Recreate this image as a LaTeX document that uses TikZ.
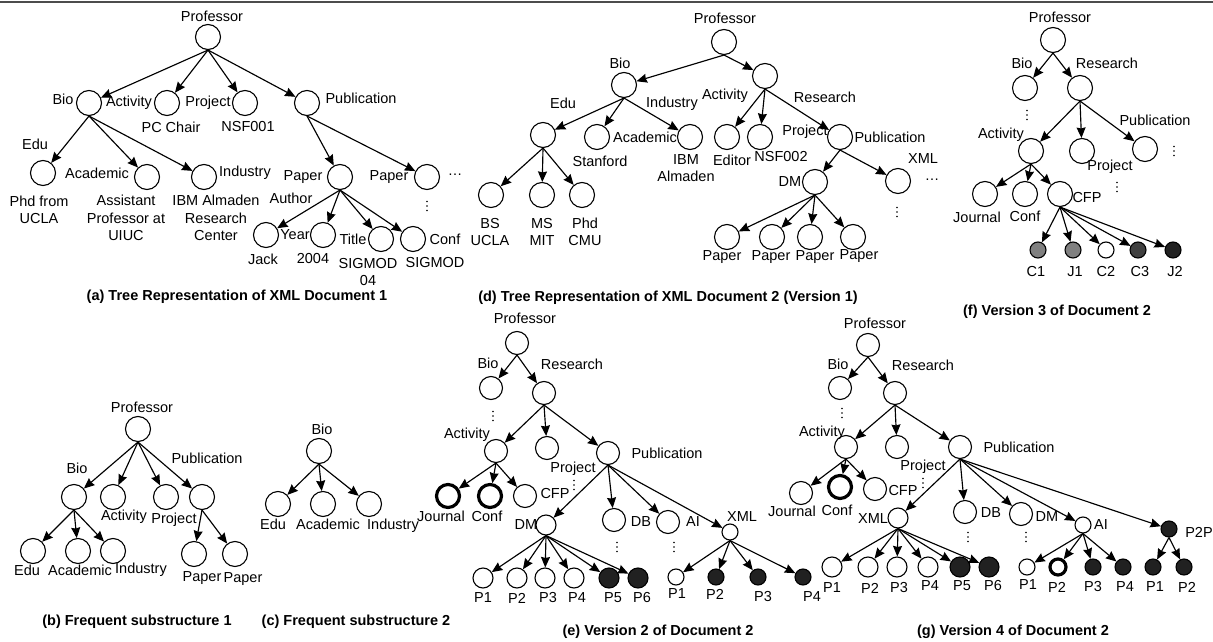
\documentclass[tikz,border=0pt]{standalone}
\usepackage{fontspec}
\setmainfont{Liberation Sans}
\usetikzlibrary{arrows.meta}
\newcommand\lblfont{\fontsize{14.5}{17.5}\selectfont}
\newcommand\capfont{\fontsize{14.5}{17}\selectfont\bfseries}
\newcommand\vdts[2]{\foreach \dy in {-4.5,0,4.5}{\fill (#1,#2+\dy) circle (0.9pt);}}
\begin{document}
\begin{tikzpicture}[x=1pt,y=-1pt,
  nd/.style={circle,draw,line width=1.1pt,minimum size=25pt,inner sep=0pt},
  ne/.style={nd,minimum size=23pt},
  md/.style={nd,minimum size=20pt},
  sm/.style={nd,minimum size=16pt},
  dk/.style={fill=black!87},
  dg/.style={fill=black!75},
  gy/.style={fill=black!50},
  ring/.style={line width=3.2pt},
  lb/.style={inner sep=0pt,font=\lblfont,align=center},
  captn/.style={inner sep=0pt,font=\capfont},
  ar/.style={line width=1.15pt,-{Stealth[length=10.5pt,width=9pt,inset=1pt]}}]
\useasboundingbox (0,0) rectangle (1213,642);
\draw[line width=1.5pt,black!70] (0,2) -- (1213,2);

% ---------------- (a)
\node[nd] (a0) at (208,37) {};
\node[lb] (a0l) at (212,16) {Professor};
\node[nd] (a1) at (89,103) {}; \node[lb] (a1l) at (63,99) {Bio};
\node[nd] (a2) at (167,103) {}; \node[lb] (a2l) at (129,103) {Activity};
\node[nd] (a3) at (245,103) {}; \node[lb] (a3l) at (208,103) {Project};
\node[nd] (a4) at (307,103) {}; \node[lb] (a4l) at (361,98) {Publication};
\node[lb] (a2v) at (171,127) {PC Chair};
\node[lb] (a3v) at (248,127) {NSF001};
\node[nd] (a5) at (43,173) {}; \node[lb] (a5l) at (35,144) {Edu};
\node[nd] (a6) at (147,177) {}; \node[lb] (a6l) at (97,173) {Academic};
\node[nd] (a7) at (204,177) {}; \node[lb] (a7l) at (245,173) {Industry};
\node[lb] (a5v) at (39,210) {Phd from\\UCLA};
\node[lb] (a6v) at (126,218) {Assistant\\Professor at\\UIUC};
\node[lb] (a7v) at (216,218) {IBM Almaden\\Research\\Center};
\node[nd] (a8) at (340,177) {}; \node[lb] (a8l) at (303,177) {Paper};
\node[nd] (a9) at (427,177) {}; \node[lb] (a9l) at (389,177) {Paper};
\node[lb] (a9h) at (455,175) {…};
\vdts{427}{206}
\node[lb] (a10l) at (291,198) {Author};
\node[nd] (a10) at (266,235) {}; \node[lb] (a10v) at (263,259) {Jack};
\node[nd] (a11) at (323,235) {}; \node[lb] (a11l) at (295,235) {Year}; \node[lb] (a11v) at (313,259) {2004};
\node[nd] (a12) at (381,239) {}; \node[lb] (a12l) at (353,239) {Title}; \node[lb] (a12v) at (368,272) {SIGMOD\\04};
\node[nd] (a13) at (413,239) {}; \node[lb] (a13l) at (445,239) {Conf}; \node[lb] (a13v) at (435,263) {SIGMOD};
\node[captn] (acap) at (237,297) {(a) Tree Representation of XML Document 1};
\foreach \c in {a1,a2,a3,a4} \draw[ar] (a0.south) -- (\c);
\foreach \c in {a5,a6,a7} \draw[ar] (a1.south) -- (\c);
\foreach \c in {a8,a9} \draw[ar] (a4.south) -- (\c);
\foreach \c in {a10,a11,a12,a13} \draw[ar] (a8.south) -- (\c);

% ---------------- (d)
\node[nd] (d0) at (724,42) {}; \node[lb] (d0l) at (725,18) {Professor};
\node[nd] (d1) at (624,85) {}; \node[lb] (d1l) at (620,63) {Bio};
\node[nd] (d2) at (765,76) {}; \node[lb] (d2l) at (825,97) {Research};
\node[nd] (d3) at (543,135) {}; \node[lb] (d3l) at (563,103) {Edu};
\node[nd] (d4) at (597,137) {}; \node[lb] (d4l) at (645,137) {Academic};
\node[nd] (d5) at (690,137) {}; \node[lb] (d5l) at (672,104) {Industry};
\node[lb] (d4v) at (600,161) {Stanford};
\node[lb] (d5v) at (686,168) {IBM\\Almaden};
\node[lb] (d6l) at (725,96) {Activity};
\node[nd] (d6) at (727,137) {}; \node[lb] (d6v) at (732,160) {Editor};
\node[nd] (d7) at (760,137) {}; \node[lb] (d7v) at (781,157) {NSF002}; \node[lb] (d7l) at (805,132) {Project};
\node[nd] (d8) at (840,137) {}; \node[lb] (d8l) at (890,137) {Publication};
\node[nd] (d9) at (491,195) {}; \node[lb] (d9v) at (490,232) {BS\\UCLA};
\node[nd] (d10) at (542,195) {}; \node[lb] (d10v) at (542,232) {MS\\MIT};
\node[nd] (d11) at (582,195) {}; \node[lb] (d11v) at (585,232) {Phd\\CMU};
\node[nd] (d12) at (815,182) {}; \node[lb] (d12l) at (790,182) {DM};
\node[nd] (d13) at (898,181) {}; \node[lb] (d13l) at (923,159) {XML};
\node[lb] (d13h) at (932,180) {…};
\vdts{897}{212}
\node[nd] (d14) at (727,237) {}; \node[lb] (d14v) at (722,257) {Paper};
\node[nd] (d15) at (772,237) {}; \node[lb] (d15v) at (771,257) {Paper};
\node[nd] (d16) at (810,237) {}; \node[lb] (d16v) at (815,257) {Paper};
\node[nd] (d17) at (853,237) {}; \node[lb] (d17v) at (859,256) {Paper};
\node[captn] (dcap) at (668,298) {(d) Tree Representation of XML Document 2 (Version 1)};
\foreach \c in {d1,d2} \draw[ar] (d0.south) -- (\c);
\foreach \c in {d3,d4,d5} \draw[ar] (d1.south) -- (\c);
\foreach \c in {d6,d7,d8} \draw[ar] (d2.south) -- (\c);
\foreach \c in {d9,d10,d11} \draw[ar] (d3.south) -- (\c);
\foreach \c in {d12,d13} \draw[ar] (d8.south) -- (\c);
\foreach \c in {d14,d15,d16,d17} \draw[ar] (d12.south) -- (\c);

% ---------------- (f)
\node[nd] (f0) at (1053,40) {}; \node[lb] (f0l) at (1060,17) {Professor};
\node[nd] (f1) at (1025,88) {}; \node[lb] (f1l) at (1022,63) {Bio};
\node[nd] (f2) at (1080,88) {}; \node[lb] (f2l) at (1107,63) {Research};
\vdts{1027}{115}
\node[nd] (f3) at (1031,151) {}; \node[lb] (f3l) at (1001,135) {Activity};
\node[nd] (f4) at (1082,151) {}; \node[lb] (f4l) at (1110,167) {Project};
\vdts{1117}{187}
\node[nd] (f5) at (1145,149) {}; \node[lb] (f5l) at (1155,120) {Publication};
\vdts{1174}{151}
\node[nd] (f6) at (985,194) {}; \node[lb] (f6l) at (977,217) {Journal};
\node[nd] (f7) at (1025,194) {}; \node[lb] (f7l) at (1025,216) {Conf};
\node[nd] (f8) at (1060,194) {}; \node[lb] (f8l) at (1087,198) {CFP};
\node[sm,gy] (f9) at (1038,250) {}; \node[lb] (f9l) at (1036,272) {C1};
\node[sm,gy] (f10) at (1073,250) {}; \node[lb] (f10l) at (1075,272) {J1};
\node[sm] (f11) at (1106,250) {}; \node[lb] (f11l) at (1106,272) {C2};
\node[sm,dg] (f12) at (1138,250) {}; \node[lb] (f12l) at (1140,272) {C3};
\node[sm,dk] (f13) at (1173,250) {}; \node[lb] (f13l) at (1175,272) {J2};
\node[captn] (fcap) at (1057,312) {(f) Version 3 of Document 2};
\foreach \c in {f1,f2} \draw[ar] (f0.south) -- (\c);
\foreach \c in {f3,f4,f5} \draw[ar] (f2.south) -- (\c);
\foreach \c in {f6,f7,f8} \draw[ar] (f3.south) -- (\c);
\foreach \c in {f9,f10,f11,f12,f13} \draw[ar] (f8.south) -- (\c);

% ---------------- (b)
\node[nd] (b0) at (138,429) {}; \node[lb] (b0l) at (142,407) {Professor};
\node[nd] (b1) at (74,497) {}; \node[lb] (b1l) at (77,468) {Bio};
\node[nd] (b2) at (113,497) {}; \node[lb] (b2l) at (124,517) {Activity};
\node[nd] (b3) at (166,497) {}; \node[lb] (b3l) at (174,520) {Project};
\node[nd] (b4) at (202,497) {}; \node[lb] (b4l) at (207,458) {Publication};
\node[nd] (b5) at (33,551) {}; \node[lb] (b5l) at (27,570) {Edu};
\node[nd] (b6) at (78,551) {}; \node[lb] (b6l) at (80,570) {Academic};
\node[nd] (b7) at (113,551) {}; \node[lb] (b7l) at (141,570) {Industry};
\node[nd] (b8) at (194,554) {}; \node[lb] (b8l) at (202,578) {Paper};
\node[nd] (b9) at (235,554) {}; \node[lb] (b9l) at (243,579) {Paper};
\node[captn] (bcap) at (137,622) {(b) Frequent substructure 1};
\foreach \c in {b1,b2,b3,b4} \draw[ar] (b0.south) -- (\c);
\foreach \c in {b5,b6,b7} \draw[ar] (b1.south) -- (\c);
\foreach \c in {b8,b9} \draw[ar] (b4.south) -- (\c);

% ---------------- (c)
\node[nd] (c0) at (319,451) {}; \node[lb] (c0l) at (322,429) {Bio};
\node[nd] (c1) at (278,504) {}; \node[lb] (c1l) at (273,524) {Edu};
\node[nd] (c2) at (323,504) {}; \node[lb] (c2l) at (328,524) {Academic};
\node[nd] (c3) at (369,504) {}; \node[lb] (c3l) at (393,526) {Industry};
\node[captn] (ccap) at (356,622) {(c) Frequent substructure 2};
\foreach \c in {c1,c2,c3} \draw[ar] (c0.south) -- (\c);

% ---------------- (e)
\node[ne] (e0) at (517,343) {}; \node[lb] (e0l) at (525,318) {Professor};
\node[ne] (e1) at (491,388) {}; \node[lb] (e1l) at (488,363) {Bio};
\node[ne] (e2) at (544,393) {}; \node[lb] (e2l) at (572,364) {Research};
\vdts{493}{416}
\node[ne] (e3) at (496,451) {}; \node[lb] (e3l) at (467,435) {Activity};
\node[ne] (e4) at (547,448) {}; \node[lb] (e4l) at (573,469) {Project};
\vdts{574}{485}
\node[ne] (e5) at (608,453) {}; \node[lb] (e5l) at (667,453) {Publication};
\node[ne,ring] (e6) at (448,496) {}; \node[lb] (e6l) at (441,516) {Journal};
\node[ne,ring] (e7) at (490,496) {}; \node[lb] (e7l) at (487,516) {Conf};
\node[ne] (e8) at (525,496) {}; \node[lb] (e8l) at (555,494) {CFP};
\node[md] (e9) at (546,525) {}; \node[lb] (e9l) at (526,525) {DM};
\node[ne] (e10) at (614,520) {}; \node[lb] (e10l) at (641,522) {DB};
\vdts{617}{547}
\node[ne] (e11) at (668,522) {}; \node[lb] (e11l) at (693,522) {AI};
\vdts{674}{547}
\node[sm] (e12) at (730,532) {}; \node[lb] (e12l) at (742,517) {XML};
\node[md] (e13) at (483,578) {}; \node[lb] (e13l) at (483,598) {P1};
\node[md] (e14) at (517,578) {}; \node[lb] (e14l) at (517,598) {P2};
\node[md] (e15) at (545,578) {}; \node[lb] (e15l) at (548,598) {P3};
\node[md] (e16) at (574,578) {}; \node[lb] (e16l) at (577,598) {P4};
\node[md,dk] (e17) at (609,578) {}; \node[lb] (e17l) at (613,598) {P5};
\node[md,dk] (e18) at (638,578) {}; \node[lb] (e18l) at (642,598) {P6};
\node[sm] (e19) at (676,577) {}; \node[lb] (e19l) at (677,594) {P1};
\node[sm,dk] (e20) at (716,577) {}; \node[lb] (e20l) at (715,594) {P2};
\node[sm,dk] (e21) at (758,577) {}; \node[lb] (e21l) at (763,597) {P3};
\node[sm,dk] (e22) at (803,577) {}; \node[lb] (e22l) at (812,597) {P4};
\node[captn] (ecap) at (658,632) {(e) Version 2 of Document 2};
\foreach \c in {e1,e2} \draw[ar] (e0.south) -- (\c);
\foreach \c in {e3,e4,e5} \draw[ar] (e2.south) -- (\c);
\foreach \c in {e6,e7,e8} \draw[ar] (e3.south) -- (\c);
\foreach \c in {e9,e10,e11,e12} \draw[ar] (e5.south) -- (\c);
\foreach \c in {e13,e14,e15,e16,e17,e18} \draw[ar] (e9.south) -- (\c);
\foreach \c in {e19,e20,e21,e22} \draw[ar] (e12.south) -- (\c);

% ---------------- (g)
\node[ne] (g0) at (868,345) {}; \node[lb] (g0l) at (875,323) {Professor};
\node[ne] (g1) at (840,388) {}; \node[lb] (g1l) at (838,364) {Bio};
\node[ne] (g2) at (895,393) {}; \node[lb] (g2l) at (923,365) {Research};
\vdts{842}{413}
\node[ne] (g3) at (846,447) {}; \node[lb] (g3l) at (822,433) {Activity};
\node[ne] (g4) at (897,447) {}; \node[lb] (g4l) at (923,467) {Project};
\vdts{923}{483}
\node[ne] (g5) at (960,447) {}; \node[lb] (g5l) at (1019,447) {Publication};
\node[ne] (g6) at (801,493) {}; \node[lb] (g6l) at (792,511) {Journal};
\node[ne,ring] (g7) at (840,487) {}; \node[lb] (g7l) at (837,510) {Conf};
\node[ne] (g8) at (875,489) {}; \node[lb] (g8l) at (903,491) {CFP};
\node[md] (g9) at (898,518) {}; \node[lb] (g9l) at (873,519) {XML};
\node[ne] (g10) at (965,512) {}; \node[lb] (g10l) at (991,513) {DB};
\vdts{968}{537}
\node[ne] (g11) at (1021,514) {}; \node[lb] (g11l) at (1047,517) {DM};
\vdts{1026}{537}
\node[sm] (g12) at (1083,525) {}; \node[lb] (g12l) at (1101,525) {AI};
\node[sm,dk] (g13) at (1169,529) {}; \node[lb] (g13l) at (1199,532) {P2P};
\node[md] (g14) at (832,567) {}; \node[lb] (g14l) at (832,588) {P1};
\node[md] (g15) at (868,567) {}; \node[lb] (g15l) at (870,588) {P2};
\node[md] (g16) at (897,567) {}; \node[lb] (g16l) at (899,588) {P3};
\node[md] (g17) at (928,567) {}; \node[lb] (g17l) at (930,586) {P4};
\node[md,dk] (g18) at (960,567) {}; \node[lb] (g18l) at (962,586) {P5};
\node[md,dk] (g19) at (989,567) {}; \node[lb] (g19l) at (993,586) {P6};
\node[sm] (g20) at (1027,567) {}; \node[lb] (g20l) at (1028,585) {P1};
\node[sm,ring] (g21) at (1058,567) {}; \node[lb] (g21l) at (1057,587) {P2};
\node[sm,dk] (g22) at (1093,567) {}; \node[lb] (g22l) at (1093,587) {P3};
\node[sm,dk] (g23) at (1123,567) {}; \node[lb] (g23l) at (1125,587) {P4};
\node[sm,dk] (g24) at (1153,567) {}; \node[lb] (g24l) at (1155,587) {P1};
\node[sm,dk] (g25) at (1184,567) {}; \node[lb] (g25l) at (1187,587) {P2};
\node[captn] (gcap) at (1013,632) {(g) Version 4 of Document 2};
\foreach \c in {g1,g2} \draw[ar] (g0.south) -- (\c);
\foreach \c in {g3,g4,g5} \draw[ar] (g2.south) -- (\c);
\foreach \c in {g6,g7,g8} \draw[ar] (g3.south) -- (\c);
\foreach \c in {g9,g10,g11,g12,g13} \draw[ar] (g5.south) -- (\c);
\foreach \c in {g14,g15,g16,g17,g18,g19} \draw[ar] (g9.south) -- (\c);
\foreach \c in {g20,g21,g22,g23} \draw[ar] (g12.south) -- (\c);
\foreach \c in {g24,g25} \draw[ar] (g13.south) -- (\c);
\end{tikzpicture}
\end{document}
